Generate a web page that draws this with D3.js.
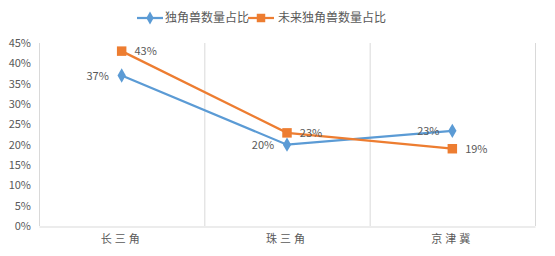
<!DOCTYPE html>
<html>
<head>
<meta charset="utf-8">
<script src="https://cdn.jsdelivr.net/npm/d3@7"></script>
<style>
  body { margin: 0; background: #fff; }
  text { font-family: "Noto Sans CJK SC", "Noto Sans", sans-serif; fill: #595959; }
</style>
</head>
<body>
<script>
// data
const categories = ['长三角', '珠三角', '京津冀'];
const seriesNames = ['独角兽数量占比', '未来独角兽数量占比'];
const unicorn = [0.37, 0.20, 0.234];
const futureUnicorn = [0.43, 0.229, 0.19];
const unicornLabels = ['37%', '20%', '23%'];
const futureLabels = ['43%', '23%', '19%'];
const yTicks = [0, 0.05, 0.1, 0.15, 0.2, 0.25, 0.3, 0.35, 0.4, 0.45];

const W = 555, H = 256;
const plotLeft = 39, plotRight = 535, plotTop = 43, plotBottom = 226;

const svg = d3.select('body').append('svg')
  .attr('width', W)
  .attr('height', H);

const x = d3.scaleBand()
  .domain(categories)
  .range([plotLeft, plotRight]);

const y = d3.scaleLinear()
  .domain([0, 0.45])
  .range([plotBottom, plotTop]);

// vertical separators
svg.append('g')
  .selectAll('line')
  .data([plotLeft].concat(categories.map(c => x(c) + x.bandwidth())))
  .enter()
  .append('line')
  .attr('x1', d => d + 0.5).attr('x2', d => d + 0.5)
  .attr('y1', plotTop).attr('y2', plotBottom)
  .attr('stroke', '#d9d9d9');

// x axis
const xAxis = svg.append('g')
  .attr('transform', `translate(0,${plotBottom + 0.5})`)
  .call(d3.axisBottom(x).tickSize(0).tickPadding(9));
xAxis.select('.domain').attr('stroke', '#d9d9d9');
xAxis.selectAll('text')
  .attr('font-size', 11)
  .style('letter-spacing', '3px');

// y axis
const yAxis = svg.append('g')
  .attr('transform', `translate(${plotLeft},0)`)
  .call(d3.axisLeft(y).tickValues(yTicks).tickSize(0).tickPadding(8).tickFormat(d3.format('.0%')));
yAxis.select('.domain').remove();
yAxis.selectAll('text').attr('font-size', 11);

const series = [
  { name: seriesNames[0], values: unicorn, labels: unicornLabels, color: '#5B9BD5', shape: d3.symbolDiamond, size: 60, dx: -24 },
  { name: seriesNames[1], values: futureUnicorn, labels: futureLabels, color: '#ED7D31', shape: d3.symbolSquare, size: 90, dx: 24 }
];

const line = d3.line()
  .x((d, i) => x(categories[i]) + x.bandwidth() / 2)
  .y(d => y(d));

series.forEach(s => {
  svg.append('path')
    .datum(s.values)
    .attr('d', line)
    .attr('fill', 'none')
    .attr('stroke', s.color)
    .attr('stroke-width', 2.25);
});

series.forEach(s => {
  svg.append('g')
    .selectAll('path')
    .data(s.values)
    .enter()
    .append('path')
    .attr('d', d3.symbol().type(s.shape).size(s.size))
    .attr('transform', (d, i) => `translate(${x(categories[i]) + x.bandwidth() / 2},${y(d)})`)
    .attr('fill', s.color);

  svg.append('g')
    .selectAll('text')
    .data(s.values)
    .enter()
    .append('text')
    .attr('x', (d, i) => x(categories[i]) + x.bandwidth() / 2 + s.dx)
    .attr('y', d => y(d) + 4)
    .attr('text-anchor', 'middle')
    .attr('font-size', 11)
    .text((d, i) => s.labels[i]);
});

// legend
const legend = svg.append('g');
const legendItems = [
  { x: 137, textX: 165 },
  { x: 248, textX: 278 }
];
series.forEach((s, i) => {
  const g = legend.append('g').attr('transform', `translate(${legendItems[i].x},18)`);
  g.append('line')
    .attr('x1', 0).attr('x2', 26)
    .attr('stroke', s.color)
    .attr('stroke-width', 2.25);
  g.append('path')
    .attr('d', d3.symbol().type(s.shape).size(s.size * 0.8))
    .attr('transform', 'translate(13,0)')
    .attr('fill', s.color);
  legend.append('text')
    .attr('x', legendItems[i].textX)
    .attr('y', 22)
    .attr('font-size', 12)
    .text(s.name);
});
</script>
</body>
</html>
